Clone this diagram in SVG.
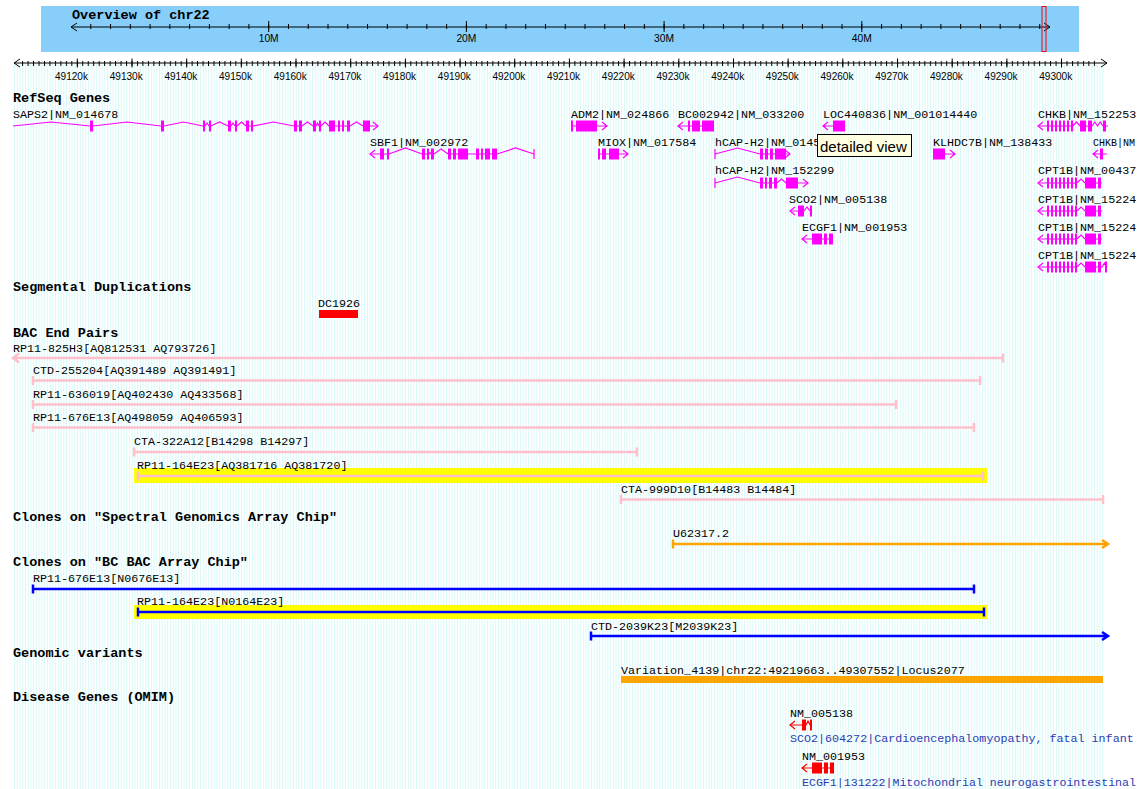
<svg xmlns="http://www.w3.org/2000/svg" width="1138" height="789" viewBox="0 0 1138 789">
<defs>
<pattern id="grid" patternUnits="userSpaceOnUse" x="77" y="0" width="2.734" height="20"><rect x="0" y="0" width="1" height="20" fill="#d9f8f8"/></pattern>
<pattern id="mt" patternUnits="userSpaceOnUse" x="76.8" y="0" width="5.468" height="100"><rect x="0" y="0" width="1" height="100" fill="#000"/></pattern>
<pattern id="ot" patternUnits="userSpaceOnUse" x="70.5" y="0" width="19.77" height="100"><rect x="0" y="0" width="1" height="100" fill="#000"/></pattern>
</defs>
<style>
.h{font-family:"Liberation Mono",monospace;font-weight:bold;font-size:13.5px;fill:#000}
.l{font-family:"Liberation Mono",monospace;font-size:11.7px;fill:#000}
.d{font-family:"Liberation Mono",monospace;font-size:11.7px;fill:#2b3cb3}
.r{font-family:"Liberation Sans",sans-serif;font-size:11.5px;fill:#000;text-anchor:middle}
.ax{stroke:#000;stroke-width:1;fill:none}
.g{stroke:#FF00FF;stroke-width:1.2;fill:none}
.gx{fill:#FF00FF}
.pk{stroke:#FFC0CB;stroke-width:2.5;fill:none}
.bl{stroke:#0000FF;stroke-width:2.5;fill:none}
.or{stroke:#FFA500;stroke-width:2.5;fill:none}
.rg{stroke:#FF0000;stroke-width:1.2;fill:none}
.rx{fill:#FF0000}
.yl{fill:#FFFF00}
</style>
<rect x="0" y="0" width="1138" height="789" fill="#fff"/>
<rect x="14" y="64" width="1091" height="725" fill="url(#grid)"/>

<g id="overview">
<rect x="41" y="6" width="1038" height="46" fill="#87CEFA"/>
<text class="h" x="72" y="19">Overview of chr22</text>
<path class="ax" d="M71,27 H1050 M77,23 L71,27 L77,31 M1044,23 L1050,27 L1044,31 M268.7,21 V32 M466.4,21 V32 M664.1,21 V32 M861.8,21 V32"/>
<rect x="90" y="24" width="951" height="5" fill="url(#ot)"/>
<text class="r" x="268.7" y="42" textLength="20" lengthAdjust="spacingAndGlyphs">10M</text>
<text class="r" x="466.4" y="42" textLength="20" lengthAdjust="spacingAndGlyphs">20M</text>
<text class="r" x="664.1" y="42" textLength="20" lengthAdjust="spacingAndGlyphs">30M</text>
<text class="r" x="861.8" y="42" textLength="20" lengthAdjust="spacingAndGlyphs">40M</text>
<rect x="1042" y="6.5" width="4" height="45" fill="none" stroke="#FF0000" stroke-width="1"/>
</g>

<g id="ruler">
<path class="ax" d="M14,63 H1107 M20,59 L14,63 L20,67 M1101,59 L1107,63 L1101,67"/>
<rect x="22" y="61" width="1073" height="5" fill="url(#mt)"/>
<path class="ax" d="M77.3,58.5V67.5 M132,58.5V67.5 M186.7,58.5V67.5 M241.3,58.5V67.5 M296,58.5V67.5 M350.7,58.5V67.5 M405.4,58.5V67.5 M460.1,58.5V67.5 M514.7,58.5V67.5 M569.4,58.5V67.5 M624.1,58.5V67.5 M678.8,58.5V67.5 M733.5,58.5V67.5 M788.1,58.5V67.5 M842.8,58.5V67.5 M897.5,58.5V67.5 M952.2,58.5V67.5 M1006.9,58.5V67.5 M1061.5,58.5V67.5"/>
<text class="r" x="71.5" y="79.5" textLength="33" lengthAdjust="spacingAndGlyphs">49120k</text>
<text class="r" x="126.2" y="79.5" textLength="33" lengthAdjust="spacingAndGlyphs">49130k</text>
<text class="r" x="180.9" y="79.5" textLength="33" lengthAdjust="spacingAndGlyphs">49140k</text>
<text class="r" x="235.5" y="79.5" textLength="33" lengthAdjust="spacingAndGlyphs">49150k</text>
<text class="r" x="290.2" y="79.5" textLength="33" lengthAdjust="spacingAndGlyphs">49160k</text>
<text class="r" x="344.9" y="79.5" textLength="33" lengthAdjust="spacingAndGlyphs">49170k</text>
<text class="r" x="399.6" y="79.5" textLength="33" lengthAdjust="spacingAndGlyphs">49180k</text>
<text class="r" x="454.3" y="79.5" textLength="33" lengthAdjust="spacingAndGlyphs">49190k</text>
<text class="r" x="508.9" y="79.5" textLength="33" lengthAdjust="spacingAndGlyphs">49200k</text>
<text class="r" x="563.6" y="79.5" textLength="33" lengthAdjust="spacingAndGlyphs">49210k</text>
<text class="r" x="618.3" y="79.5" textLength="33" lengthAdjust="spacingAndGlyphs">49220k</text>
<text class="r" x="673" y="79.5" textLength="33" lengthAdjust="spacingAndGlyphs">49230k</text>
<text class="r" x="727.7" y="79.5" textLength="33" lengthAdjust="spacingAndGlyphs">49240k</text>
<text class="r" x="782.3" y="79.5" textLength="33" lengthAdjust="spacingAndGlyphs">49250k</text>
<text class="r" x="837" y="79.5" textLength="33" lengthAdjust="spacingAndGlyphs">49260k</text>
<text class="r" x="891.7" y="79.5" textLength="33" lengthAdjust="spacingAndGlyphs">49270k</text>
<text class="r" x="946.4" y="79.5" textLength="33" lengthAdjust="spacingAndGlyphs">49280k</text>
<text class="r" x="1001.1" y="79.5" textLength="33" lengthAdjust="spacingAndGlyphs">49290k</text>
<text class="r" x="1055.7" y="79.5" textLength="33" lengthAdjust="spacingAndGlyphs">49300k</text>
</g>

<g id="refseq">
<text class="h" x="13" y="102">RefSeq Genes</text>
<text class="l" x="13" y="117.5">SAPS2|NM_014678</text>
<text class="l" x="571" y="117.5">ADM2|NM_024866</text>
<text class="l" x="678" y="117.5">BC002942|NM_033200</text>
<text class="l" x="823" y="117.5">LOC440836|NM_001014440</text>
<text class="l" x="1038" y="117.5">CHKB|NM_152253</text>
<text class="l" x="370" y="146">SBF1|NM_002972</text>
<text class="l" x="598" y="146">MIOX|NM_017584</text>
<text class="l" x="715" y="146">hCAP-H2|NM_0145</text>
<text class="l" x="933" y="146">KLHDC7B|NM_138433</text>
<text class="l" x="1093" y="146" style="font-size:10.5px" textLength="42" lengthAdjust="spacingAndGlyphs">CHKB|NM</text>
<text class="l" x="715" y="174">hCAP-H2|NM_152299</text>
<text class="l" x="1038" y="174">CPT1B|NM_00437</text>
<text class="l" x="789" y="202.5">SCO2|NM_005138</text>
<text class="l" x="1038" y="202.5">CPT1B|NM_15224</text>
<text class="l" x="802" y="231">ECGF1|NM_001953</text>
<text class="l" x="1038" y="231">CPT1B|NM_15224</text>
<text class="l" x="1038" y="259">CPT1B|NM_15224</text>

<g id="SAPS2" transform="translate(0,126)">
<polyline class="g" points="13,0 51,-4 90,0 93,0 127,-4 161,0 164,0 183.5,-4 203,0 205,0 207,-3 209,0 211,0 219.5,-4 228,0 231,0 233,-3 235,0 237,0 241.5,-4 246,0 253,0 273.5,-4 294,0 302,0 307.5,-4 313,0 316,0 317.5,-3 319,0 321,0 325,-4 329,0 350,0 356.5,-4 363,0 378,0"/>
<path class="g" d="M373,-4 L378,0 L373,4"/>
<path class="gx" d="M90,-5.5h3v11h-3z M161,-5.5h3v11h-3z M203,-5.5h2v11h-2z M209,-5.5h2v11h-2z M228,-5.5h3v11h-3z M235,-5.5h2v11h-2z M246,-5.5h3v11h-3z M251,-5.5h2v11h-2z M294,-5.5h3v11h-3z M299,-5.5h3v11h-3z M313,-5.5h3v11h-3z M319,-5.5h2v11h-2z M329,-5.5h6v11h-6z M338,-5.5h2v11h-2z M342,-5.5h2v11h-2z M347,-5.5h3v11h-3z M363,-5.5h7v11h-7z"/>
</g>
<g id="ADM2" transform="translate(0,126)">
<path class="g" d="M571,0 H607 M602,-4 L607,0 L602,4"/>
<path class="gx" d="M571,-5.5h2v11h-2z M576,-5.5h21v11h-21z"/>
</g>
<g id="BC002942" transform="translate(0,126)">
<path class="g" d="M678,0 H714 M683,-4 L678,0 L683,4"/>
<path class="gx" d="M688,-5.5h2v11h-2z M692,-5.5h8v11h-8z M702,-5.5h12v11h-12z"/>
</g>
<g id="LOC440836" transform="translate(0,126)">
<path class="g" d="M823,0 H845 M828,-4 L823,0 L828,4"/>
<path class="gx" d="M833,-5.5h12v11h-12z"/>
</g>
<g id="CHKB1" transform="translate(0,126)">
<polyline class="g" points="1038,0 1073,0 1076.5,-4 1080,0 1092,0 1094.75,-4 1097.5,0 1100.25,-4 1103,0 1108,0"/>
<path class="g" d="M1043,-4 L1038,0 L1043,4"/>
<path class="gx" d="M1047,-5.5h2v11h-2z M1051,-5.5h2v11h-2z M1055,-5.5h2v11h-2z M1059,-5.5h2v11h-2z M1063,-5.5h2v11h-2z M1067,-5.5h2v11h-2z M1071,-5.5h2v11h-2z M1080,-5.5h6v11h-6z M1088,-5.5h4v11h-4z M1103,-5.5h3v11h-3z"/>
</g>
<g id="SBF1" transform="translate(0,154)">
<polyline class="g" points="370,0 389,0 405.5,-6 422,0 429,0 430,-1.5 431,0 434,0 441,-5 448,0 497,0 515.5,-6 534,0"/>
<path class="g" d="M375,-4 L370,0 L375,4 M534,-5 V5"/>
<path class="gx" d="M380,-5.5h4v11h-4z M387,-5.5h2v11h-2z M422,-5.5h3v11h-3z M427,-5.5h2v11h-2z M431,-5.5h3v11h-3z M448,-5.5h3v11h-3z M453,-5.5h3v11h-3z M458,-5.5h10v11h-10z M476,-5.5h3v11h-3z M481,-5.5h2v11h-2z M485,-5.5h5v11h-5z M492,-5.5h5v11h-5z"/>
</g>
<g id="MIOX" transform="translate(0,154)">
<path class="g" d="M598,0 H628 M623,-4 L628,0 L623,4"/>
<path class="gx" d="M598,-5.5h2v11h-2z M602,-5.5h4v11h-4z M609,-5.5h10v11h-10z"/>
</g>
<g id="hCAP-H2a" transform="translate(0,154)">
<polyline class="g" points="715,0 737.5,-6 760,0 790,0"/>
<path class="g" d="M715,-5 V5 M785,-4 L790,0 L785,4"/>
<path class="gx" d="M760,-5.5h3v11h-3z M765,-5.5h3v11h-3z M770,-5.5h3v11h-3z M775,-5.5h11v11h-11z"/>
</g>
<g id="KLHDC7B" transform="translate(0,154)">
<path class="g" d="M933,0 H955 M950,-4 L955,0 L950,4"/>
<path class="gx" d="M933,-5.5h12v11h-12z"/>
</g>
<g id="CHKB2" transform="translate(0,154)">
<path class="g" d="M1093,0 H1107 M1098,-4 L1093,0 L1098,4"/>
<path class="gx" d="M1100,-5.5h3v11h-3z"/>
</g>
<g id="hCAP-H2b" transform="translate(0,183)">
<polyline class="g" points="715,0 737.5,-6 760,0 777,0 781.5,-4 786,0 808,0"/>
<path class="g" d="M715,-5 V5 M803,-4 L808,0 L803,4"/>
<path class="gx" d="M760,-5.5h3v11h-3z M765,-5.5h2v11h-2z M769,-5.5h3v11h-3z M774,-5.5h3v11h-3z M786,-5.5h12v11h-12z"/>
</g>
<g id="SCO2" transform="translate(0,211)">
<polyline class="g" points="790,0 804,0 807,-4 810,0 812,0"/>
<path class="g" d="M795,-4 L790,0 L795,4"/>
<path class="gx" d="M798,-5.5h6v11h-6z M810,-5.5h2v11h-2z"/>
</g>
<g id="ECGF1" transform="translate(0,239)">
<path class="g" d="M802,0 H833 M807,-4 L802,0 L807,4"/>
<path class="gx" d="M812,-5.5h10v11h-10z M824,-5.5h3v11h-3z M829,-5.5h4v11h-4z"/>
</g>
<g id="CPT1B-1" transform="translate(0,183)">
<polyline class="g" points="1038,0 1077,0 1081,-4 1085,0 1102,0"/>
<path class="g" d="M1043,-4 L1038,0 L1043,4"/>
<path class="gx" d="M1047,-5.5h2v11h-2z M1051,-5.5h2v11h-2z M1055,-5.5h2v11h-2z M1059,-5.5h2v11h-2z M1063,-5.5h2v11h-2z M1067,-5.5h2v11h-2z M1071,-5.5h2v11h-2z M1075,-5.5h2v11h-2z M1085,-5.5h11v11h-11z M1098,-5.5h3v11h-3z"/>
</g>
<g id="CPT1B-2" transform="translate(0,211)">
<polyline class="g" points="1038,0 1077,0 1081,-4 1085,0 1102,0"/>
<path class="g" d="M1043,-4 L1038,0 L1043,4"/>
<path class="gx" d="M1047,-5.5h2v11h-2z M1051,-5.5h2v11h-2z M1055,-5.5h2v11h-2z M1059,-5.5h2v11h-2z M1063,-5.5h2v11h-2z M1067,-5.5h2v11h-2z M1071,-5.5h2v11h-2z M1075,-5.5h2v11h-2z M1085,-5.5h11v11h-11z M1098,-5.5h3v11h-3z"/>
</g>
<g id="CPT1B-3" transform="translate(0,239)">
<polyline class="g" points="1038,0 1077,0 1081,-4 1085,0 1102,0"/>
<path class="g" d="M1043,-4 L1038,0 L1043,4"/>
<path class="gx" d="M1047,-5.5h2v11h-2z M1051,-5.5h2v11h-2z M1055,-5.5h2v11h-2z M1059,-5.5h2v11h-2z M1063,-5.5h2v11h-2z M1067,-5.5h2v11h-2z M1071,-5.5h2v11h-2z M1075,-5.5h2v11h-2z M1085,-5.5h11v11h-11z M1098,-5.5h3v11h-3z"/>
</g>
<g id="CPT1B-4" transform="translate(0,267)">
<polyline class="g" points="1038,0 1077,0 1081,-4 1085,0 1102,0 1104.5,-4 1107,0"/>
<path class="g" d="M1043,-4 L1038,0 L1043,4"/>
<path class="gx" d="M1047,-5.5h2v11h-2z M1051,-5.5h2v11h-2z M1055,-5.5h2v11h-2z M1059,-5.5h2v11h-2z M1063,-5.5h2v11h-2z M1067,-5.5h2v11h-2z M1071,-5.5h2v11h-2z M1075,-5.5h2v11h-2z M1085,-5.5h11v11h-11z M1098,-5.5h3v11h-3z M1105,-5.5h2v11h-2z"/>
</g>
</g>

<g id="segdup">
<text class="h" x="13" y="291">Segmental Duplications</text>
<text class="l" x="318" y="307">DC1926</text>
<rect class="rx" x="319" y="310" width="39" height="8"/>
</g>

<g id="bac">
<text class="h" x="13" y="337">BAC End Pairs</text>
<text class="l" x="13" y="352">RP11-825H3[AQ812531 AQ793726]</text>
<path class="pk" d="M13,358 H1003 M19,353.5 L13,358 L19,362.5 M1003,353.5 V362.5"/>
<text class="l" x="33" y="374">CTD-255204[AQ391489 AQ391491]</text>
<path class="pk" d="M33,380.5 H980 M33,376 V385 M980,376 V385"/>
<text class="l" x="33" y="397.5">RP11-636019[AQ402430 AQ433568]</text>
<path class="pk" d="M33,404.5 H896 M33,400 V409 M896,400 V409"/>
<text class="l" x="33" y="421">RP11-676E13[AQ498059 AQ406593]</text>
<path class="pk" d="M33,427.5 H974 M33,423 V432 M974,423 V432"/>
<text class="l" x="134" y="445">CTA-322A12[B14298 B14297]</text>
<path class="pk" d="M134,452 H637 M134,447.5 V456.5 M637,447.5 V456.5"/>
<rect class="yl" x="134" y="468" width="853" height="15"/>
<text class="l" x="137" y="469">RP11-164E23[AQ381716 AQ381720]</text>
<path class="pk" d="M138,476 H983 M138,471.5 V480.5 M983,471.5 V480.5"/>
<text class="l" x="621" y="493">CTA-999D10[B14483 B14484]</text>
<path class="pk" d="M621,499.5 H1103 M621,495 V504 M1103,495 V504"/>
</g>

<g id="spectral">
<text class="h" x="13" y="521">Clones on "Spectral Genomics Array Chip"</text>
<text class="l" x="673" y="537">U62317.2</text>
<path class="or" d="M673,544 H1108 M1102,540 L1108,544 L1102,548 M673,539.5 V548.5"/>
</g>

<g id="bcbac">
<text class="h" x="13" y="566">Clones on "BC BAC Array Chip"</text>
<text class="l" x="33" y="582">RP11-676E13[N0676E13]</text>
<path class="bl" d="M33,589 H974 M33,584.5 V593.5 M974,584.5 V593.5"/>
<rect class="yl" x="134" y="605" width="853" height="14"/>
<text class="l" x="137" y="605">RP11-164E23[N0164E23]</text>
<path class="bl" d="M138,612 H984 M138,607.5 V616.5 M984,607.5 V616.5"/>
<text class="l" x="591" y="630">CTD-2039K23[M2039K23]</text>
<path class="bl" d="M591,636 H1108 M1102,632 L1108,636 L1102,640 M591,631.5 V640.5"/>
</g>

<g id="variants">
<text class="h" x="13" y="657">Genomic variants</text>
<text class="l" x="621" y="674">Variation_4139|chr22:49219663..49307552|Locus2077</text>
<rect x="621" y="676" width="482" height="7" fill="#FFA500"/>
</g>

<g id="omim">
<text class="h" x="13" y="701">Disease Genes (OMIM)</text>
<text class="l" x="790" y="717">NM_005138</text>
<g id="omim-SCO2" transform="translate(0,725)">
<polyline class="rg" points="790,0 806,0 808,-4 810,0 812,0"/>
<path class="rg" d="M795,-4 L790,0 L795,4"/>
<path class="rx" d="M802,-5.5h4v11h-4z M810,-5.5h2v11h-2z"/>
</g>
<text class="d" x="790" y="742">SCO2|604272|Cardioencephalomyopathy, fatal infant</text>
<text class="l" x="802" y="760">NM_001953</text>
<g id="omim-ECGF1" transform="translate(0,768)">
<path class="rg" d="M802,0 H834 M807,-4 L802,0 L807,4"/>
<path class="rx" d="M812,-5.5h10v11h-10z M824,-5.5h4v11h-4z M830,-5.5h4v11h-4z"/>
</g>
<text class="d" x="802" y="786" textLength="334" lengthAdjust="spacingAndGlyphs">ECGF1|131222|Mitochondrial neurogastrointestinal</text>
</g>

<g id="tooltip">
<rect x="817.5" y="134.5" width="94" height="22" fill="#FFFFE1" stroke="#000" stroke-width="1"/>
<text x="820" y="151.5" font-family="Liberation Sans, sans-serif" font-size="15" fill="#000">detailed view</text>
</g>
</svg>
